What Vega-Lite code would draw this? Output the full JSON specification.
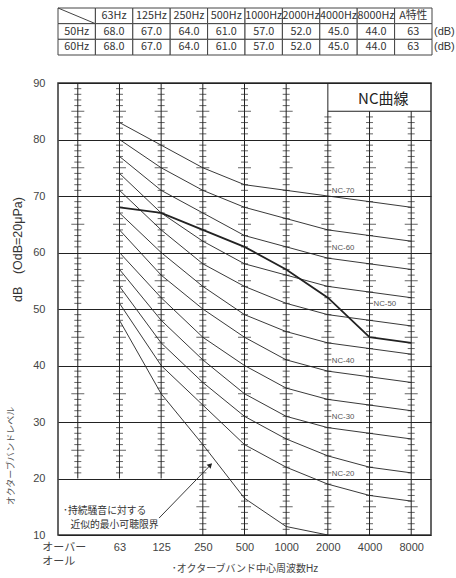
{
  "$schema": "https://vega.github.io/schema/vega-lite/v6.json",
  "background": "white",
  "padding": {"left": 6, "top": 7, "right": 0, "bottom": 0},
  "spacing": 20,
  "config": {
    "view": {"stroke": null},
    "font": "'Liberation Sans', 'Noto Sans CJK JP'"
  },
  "datasets": {
    "table": [
      {"r": "h", "lab": "", "63": "63Hz", "125": "125Hz", "250": "250Hz", "500": "500Hz", "1000": "1000Hz", "2000": "2000Hz", "4000": "4000Hz", "8000": "8000Hz", "A": "A特性"},
      {"r": "50", "lab": "50Hz", "63": "68.0", "125": "67.0", "250": "64.0", "500": "61.0", "1000": "57.0", "2000": "52.0", "4000": "45.0", "8000": "44.0", "A": "63"},
      {"r": "60", "lab": "60Hz", "63": "68.0", "125": "67.0", "250": "64.0", "500": "61.0", "1000": "57.0", "2000": "52.0", "4000": "45.0", "8000": "44.0", "A": "63"}
    ],
    "cols": [
      {"i": 0, "db": 20, "db2": 90}, {"i": 1, "db": 20, "db2": 90}, {"i": 2, "db": 20, "db2": 90},
      {"i": 3, "db": 10, "db2": 90}, {"i": 4, "db": 10, "db2": 90}, {"i": 5, "db": 10, "db2": 90},
      {"i": 6, "db": 10, "db2": 90}, {"i": 7, "db": 10, "db2": 85}, {"i": 8, "db": 10, "db2": 85}
    ],
    "ticks": [
      {"cols": [0, 1, 2], "k": "minor", "lv": [21,22,23,24,26,27,28,29,31,32,33,34,36,37,38,39,41,42,43,44,46,47,48,49,51,52,53,54,56,57,58,59,61,62,63,64,66,67,68,69,71,72,73,74,76,77,78,79,81,82,83,84,86,87,88,89]},
      {"cols": [0, 1, 2], "k": "major", "lv": [25,35,45,55,65,75,85]},
      {"cols": [3, 4, 5], "k": "minor", "lv": [11,12,13,14,16,17,18,19,21,22,23,24,26,27,28,29,31,32,33,34,36,37,38,39,41,42,43,44,46,47,48,49,51,52,53,54,56,57,58,59,61,62,63,64,66,67,68,69,71,72,73,74,76,77,78,79,81,82,83,84,86,87,88,89]},
      {"cols": [3, 4, 5], "k": "major", "lv": [15,25,35,45,55,65,75,85]},
      {"cols": [6, 7, 8], "k": "minor", "lv": [11,12,13,14,16,17,18,19,21,22,23,24,26,27,28,29,31,32,33,34,36,37,38,39,41,42,43,44,46,47,48,49,51,52,53,54,56,57,58,59,61,62,63,64,66,67,68,69,71,72,73,74,76,77,78,79,81,82,83,84]},
      {"cols": [6, 7, 8], "k": "major", "lv": [15,25,35,45,55,65,75]}
    ],
    "nc": [
      {"nc": "NC-70", "i": 1, "db": 83}, {"nc": "NC-70", "i": 2, "db": 79}, {"nc": "NC-70", "i": 3, "db": 75}, {"nc": "NC-70", "i": 4, "db": 72}, {"nc": "NC-70", "i": 5, "db": 71}, {"nc": "NC-70", "i": 6, "db": 70}, {"nc": "NC-70", "i": 7, "db": 69}, {"nc": "NC-70", "i": 8, "db": 68},
      {"nc": "NC-65", "i": 1, "db": 80}, {"nc": "NC-65", "i": 2, "db": 75}, {"nc": "NC-65", "i": 3, "db": 71}, {"nc": "NC-65", "i": 4, "db": 68}, {"nc": "NC-65", "i": 5, "db": 66}, {"nc": "NC-65", "i": 6, "db": 64}, {"nc": "NC-65", "i": 7, "db": 63}, {"nc": "NC-65", "i": 8, "db": 62},
      {"nc": "NC-60", "i": 1, "db": 77}, {"nc": "NC-60", "i": 2, "db": 71}, {"nc": "NC-60", "i": 3, "db": 67}, {"nc": "NC-60", "i": 4, "db": 63}, {"nc": "NC-60", "i": 5, "db": 61}, {"nc": "NC-60", "i": 6, "db": 59}, {"nc": "NC-60", "i": 7, "db": 58}, {"nc": "NC-60", "i": 8, "db": 57},
      {"nc": "NC-55", "i": 1, "db": 74}, {"nc": "NC-55", "i": 2, "db": 67}, {"nc": "NC-55", "i": 3, "db": 62}, {"nc": "NC-55", "i": 4, "db": 58}, {"nc": "NC-55", "i": 5, "db": 56}, {"nc": "NC-55", "i": 6, "db": 54}, {"nc": "NC-55", "i": 7, "db": 53}, {"nc": "NC-55", "i": 8, "db": 52},
      {"nc": "NC-50", "i": 1, "db": 71}, {"nc": "NC-50", "i": 2, "db": 64}, {"nc": "NC-50", "i": 3, "db": 58}, {"nc": "NC-50", "i": 4, "db": 54}, {"nc": "NC-50", "i": 5, "db": 51}, {"nc": "NC-50", "i": 6, "db": 49}, {"nc": "NC-50", "i": 7, "db": 48}, {"nc": "NC-50", "i": 8, "db": 47},
      {"nc": "NC-45", "i": 1, "db": 67}, {"nc": "NC-45", "i": 2, "db": 60}, {"nc": "NC-45", "i": 3, "db": 54}, {"nc": "NC-45", "i": 4, "db": 49}, {"nc": "NC-45", "i": 5, "db": 46}, {"nc": "NC-45", "i": 6, "db": 44}, {"nc": "NC-45", "i": 7, "db": 43}, {"nc": "NC-45", "i": 8, "db": 42},
      {"nc": "NC-40", "i": 1, "db": 64}, {"nc": "NC-40", "i": 2, "db": 56}, {"nc": "NC-40", "i": 3, "db": 50}, {"nc": "NC-40", "i": 4, "db": 45}, {"nc": "NC-40", "i": 5, "db": 41}, {"nc": "NC-40", "i": 6, "db": 39}, {"nc": "NC-40", "i": 7, "db": 38}, {"nc": "NC-40", "i": 8, "db": 37},
      {"nc": "NC-35", "i": 1, "db": 60}, {"nc": "NC-35", "i": 2, "db": 52}, {"nc": "NC-35", "i": 3, "db": 45}, {"nc": "NC-35", "i": 4, "db": 40}, {"nc": "NC-35", "i": 5, "db": 36}, {"nc": "NC-35", "i": 6, "db": 34}, {"nc": "NC-35", "i": 7, "db": 33}, {"nc": "NC-35", "i": 8, "db": 32},
      {"nc": "NC-30", "i": 1, "db": 57}, {"nc": "NC-30", "i": 2, "db": 48}, {"nc": "NC-30", "i": 3, "db": 41}, {"nc": "NC-30", "i": 4, "db": 35}, {"nc": "NC-30", "i": 5, "db": 31}, {"nc": "NC-30", "i": 6, "db": 29}, {"nc": "NC-30", "i": 7, "db": 28}, {"nc": "NC-30", "i": 8, "db": 27},
      {"nc": "NC-25", "i": 1, "db": 54}, {"nc": "NC-25", "i": 2, "db": 44}, {"nc": "NC-25", "i": 3, "db": 37}, {"nc": "NC-25", "i": 4, "db": 31}, {"nc": "NC-25", "i": 5, "db": 27}, {"nc": "NC-25", "i": 6, "db": 24}, {"nc": "NC-25", "i": 7, "db": 22}, {"nc": "NC-25", "i": 8, "db": 21},
      {"nc": "NC-20", "i": 1, "db": 51}, {"nc": "NC-20", "i": 2, "db": 40}, {"nc": "NC-20", "i": 3, "db": 33}, {"nc": "NC-20", "i": 4, "db": 26}, {"nc": "NC-20", "i": 5, "db": 22}, {"nc": "NC-20", "i": 6, "db": 19}, {"nc": "NC-20", "i": 7, "db": 17}, {"nc": "NC-20", "i": 8, "db": 16}
    ],
    "threshold": [
      {"i": 1, "db": 48}, {"i": 2, "db": 35}, {"i": 3, "db": 26}, {"i": 4, "db": 16.5}, {"i": 5, "db": 11.5}, {"i": 6, "db": 10}
    ],
    "measured": [
      {"i": 1, "db": 68}, {"i": 2, "db": 67}, {"i": 3, "db": 64}, {"i": 4, "db": 61}, {"i": 5, "db": 57}, {"i": 6, "db": 52}, {"i": 7, "db": 45}, {"i": 8, "db": 44}
    ],
    "nclabels": [
      {"t": "NC-70", "i": 6, "db": 70}, {"t": "NC-60", "i": 6, "db": 60}, {"t": "NC-50", "i": 7, "db": 50},
      {"t": "NC-40", "i": 6, "db": 40}, {"t": "NC-30", "i": 6, "db": 30}, {"t": "NC-20", "i": 6, "db": 20}
    ]
  },
  "vconcat": [
    {
      "width": 374,
      "height": 47,
      "data": {"name": "table"},
      "transform": [{"fold": ["lab", "63", "125", "250", "500", "1000", "2000", "4000", "8000", "A"], "as": ["c", "t"]}],
      "encoding": {
        "x": {"field": "c", "type": "nominal", "scale": {"domain": ["lab", "63", "125", "250", "500", "1000", "2000", "4000", "8000", "A"], "paddingInner": 0, "paddingOuter": 0}, "axis": null},
        "y": {"field": "r", "type": "nominal", "scale": {"domain": ["h", "50", "60"], "paddingInner": 0, "paddingOuter": 0}, "axis": null}
      },
      "layer": [
        {"mark": {"type": "rect", "fill": "white", "stroke": "#444", "strokeWidth": 1}},
        {"mark": {"type": "text", "fontSize": 10.8, "color": "#333", "font": "'Liberation Sans Narrow', 'Noto Sans CJK JP'"}, "encoding": {"text": {"field": "t"}}},
        {
          "transform": [{"filter": "datum.r == 'h' && datum.c == 'lab'"}],
          "mark": {"type": "rule", "color": "#444", "strokeWidth": 1},
          "encoding": {
            "x": {"field": "c", "type": "nominal", "bandPosition": 0},
            "x2": {"field": "c", "bandPosition": 1},
            "y": {"field": "r", "type": "nominal", "bandPosition": 0},
            "y2": {"field": "r", "bandPosition": 1}
          }
        },
        {
          "transform": [{"filter": "datum.r != 'h' && datum.c == 'A'"}],
          "mark": {"type": "text", "align": "left", "dx": 2, "fontSize": 11, "color": "#333", "font": "'Liberation Sans Narrow', 'Liberation Sans'"},
          "encoding": {
            "x": {"field": "c", "type": "nominal", "bandPosition": 1},
            "text": {"value": "(dB)"}
          }
        }
      ]
    },
    {
      "width": 373,
      "height": 452,
      "view": {"stroke": "#333", "strokeWidth": 1.5},
      "layer": [
        {
          "data": {"name": "cols"},
          "mark": {"type": "rule", "color": "#222", "strokeWidth": 1},
          "encoding": {
            "x": {
              "field": "i", "type": "quantitative",
              "scale": {"domain": [-0.475, 8.475], "nice": false, "zero": false},
              "axis": {
                "values": [0, 1, 2, 3, 4, 5, 6, 7, 8],
                "grid": false, "domain": false, "ticks": false,
                "labelPadding": 6, "labelFontSize": 11, "labelColor": "#444",
                "labelFlush": false, "labelOverlap": false,
                "labelBaseline": "top", "labelLineHeight": 14,
                "labelExpr": "datum.value == 0 ? ['オーバー', 'オール'] : ['', '63', '125', '250', '500', '1000', '2000', '4000', '8000'][datum.value]",
                "labelAlign": {"condition": {"test": "datum.value == 0", "value": "left"}, "value": "center"},
                "labelOffset": {"condition": {"test": "datum.value == 0", "value": -36}, "value": 0},
                "title": "･オクターブバンド中心周波数Hz",
                "titleFontSize": 10, "titleFontWeight": "normal", "titleColor": "#444",
                "titleY": 33, "titleBaseline": "middle"
              }
            },
            "y": {
              "field": "db", "type": "quantitative",
              "scale": {"domain": [10, 90], "nice": false, "zero": false},
              "axis": {
                "values": [10, 20, 30, 40, 50, 60, 70, 80, 90],
                "grid": true, "gridColor": "#222", "gridWidth": 1,
                "domain": false, "ticks": false,
                "labelPadding": 13, "labelFontSize": 11, "labelColor": "#444",
                "title": "dB　(OdB=20μPa)",
                "titleFontSize": 12.5, "titleFontWeight": "normal", "titleColor": "#333",
                "titleX": -41, "titleY": 166, "titleBaseline": "middle"
              }
            },
            "y2": {"field": "db2"}
          }
        },
        {
          "data": {"name": "ticks"},
          "transform": [{"flatten": ["cols"], "as": ["i"]}, {"flatten": ["lv"], "as": ["db"]}],
          "mark": {"type": "tick", "orient": "horizontal", "color": "#222", "thickness": 1},
          "encoding": {
            "x": {"field": "i", "type": "quantitative"},
            "y": {"field": "db", "type": "quantitative"},
            "size": {"field": "k", "type": "nominal", "scale": {"domain": ["minor", "major"], "range": [7, 13]}, "legend": null}
          }
        },
        {
          "data": {"values": [{}]},
          "mark": {"type": "rule", "color": "#222", "strokeWidth": 1},
          "encoding": {
            "x": {"datum": 6, "type": "quantitative"},
            "x2": {"datum": 8.475},
            "y": {"datum": 85, "type": "quantitative"}
          }
        },
        {
          "data": {"values": [{}]},
          "mark": {"type": "text", "fontSize": 15, "color": "#222", "font": "Noto Sans CJK JP"},
          "encoding": {
            "x": {"datum": 7.33, "type": "quantitative"},
            "y": {"datum": 87.2, "type": "quantitative"},
            "text": {"value": "NC曲線"}
          }
        },
        {
          "data": {"name": "nc"},
          "mark": {"type": "line", "color": "#222", "strokeWidth": 0.9},
          "encoding": {
            "x": {"field": "i", "type": "quantitative"},
            "y": {"field": "db", "type": "quantitative"},
            "detail": {"field": "nc", "type": "nominal"}
          }
        },
        {
          "data": {"name": "threshold"},
          "mark": {"type": "line", "color": "#222", "strokeWidth": 0.9},
          "encoding": {
            "x": {"field": "i", "type": "quantitative"},
            "y": {"field": "db", "type": "quantitative"}
          }
        },
        {
          "data": {"name": "measured"},
          "mark": {"type": "line", "color": "#222", "strokeWidth": 1.8},
          "encoding": {
            "x": {"field": "i", "type": "quantitative"},
            "y": {"field": "db", "type": "quantitative"}
          }
        },
        {
          "data": {"name": "nclabels"},
          "mark": {"type": "text", "align": "left", "baseline": "bottom", "dx": 4, "dy": -1, "fontSize": 7.8, "color": "#555"},
          "encoding": {
            "x": {"field": "i", "type": "quantitative"},
            "y": {"field": "db", "type": "quantitative"},
            "text": {"field": "t"}
          }
        },
        {
          "data": {"values": [{}]},
          "mark": {"type": "text", "align": "left", "fontSize": 9.8, "color": "#333", "font": "Noto Sans CJK JP"},
          "encoding": {
            "x": {"datum": -0.353, "type": "quantitative"},
            "y": {"datum": 14.33, "type": "quantitative"},
            "text": {"value": "･持続騒音に対する"}
          }
        },
        {
          "data": {"values": [{}]},
          "mark": {"type": "text", "align": "left", "fontSize": 9.8, "color": "#333", "font": "Noto Sans CJK JP"},
          "encoding": {
            "x": {"datum": -0.178, "type": "quantitative"},
            "y": {"datum": 11.85, "type": "quantitative"},
            "text": {"value": "近似的最小可聴限界"}
          }
        },
        {
          "data": {"values": [{}]},
          "mark": {"type": "rule", "color": "#222", "strokeWidth": 0.9},
          "encoding": {
            "x": {"datum": 1.95, "type": "quantitative"},
            "y": {"datum": 13.0, "type": "quantitative"},
            "x2": {"datum": 3.2},
            "y2": {"datum": 22.5}
          }
        },
        {
          "data": {"values": [{}]},
          "mark": {"type": "point", "shape": "triangle-up", "filled": true, "color": "#222", "size": 30, "angle": 44, "opacity": 1},
          "encoding": {
            "x": {"datum": 3.18, "type": "quantitative"},
            "y": {"datum": 22.38, "type": "quantitative"}
          }
        },
        {
          "data": {"values": [{}]},
          "mark": {"type": "text", "angle": 270, "fontSize": 9, "color": "#555", "font": "Noto Sans CJK JP"},
          "encoding": {
            "x": {"datum": -1.6, "type": "quantitative"},
            "y": {"datum": 24, "type": "quantitative"},
            "text": {"value": "オクターブバンドレベル"}
          }
        }
      ]
    }
  ]
}
